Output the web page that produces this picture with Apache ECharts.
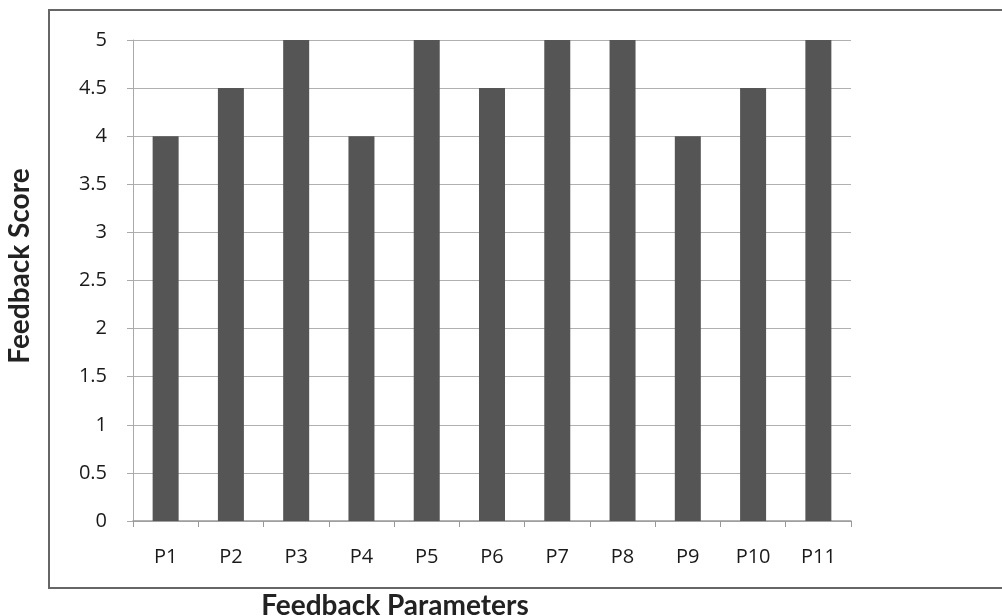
<!DOCTYPE html>
<html><head><meta charset="utf-8">
<script src="https://cdn.jsdelivr.net/npm/echarts@6/dist/echarts.min.js"></script>
<style>html,body{margin:0;padding:0;background:#fff}#c{width:1002px;height:616px}</style>
</head><body><div id="c"></div>
<script>
const categories = ['P1','P2','P3','P4','P5','P6','P7','P8','P9','P10','P11'];
const scores = [4, 4.5, 5, 4, 5, 4.5, 5, 5, 4, 4.5, 5];
const xTitle = 'Feedback Parameters';
const yTitle = 'Feedback Score';

const chart = echarts.init(document.getElementById('c'));
const font = 'Lato, "Open Sans", sans-serif';
const tickFont = '"Open Sans", Lato, sans-serif';
chart.setOption({
  animation: false,
  backgroundColor: '#fff',
  grid: {left: 133, right: 151, top: 40, bottom: 95},
  graphic: [
    {type: 'rect', shape: {x: 49, y: 10, width: 970, height: 578}, style: {fill: 'none', stroke: '#666', lineWidth: 2}},
    {type: 'text', x: 395, y: 606, style: {text: xTitle, font: 'bold 28px ' + font, fill: '#222', align: 'center', verticalAlign: 'middle'}},
    {type: 'text', x: 20, y: 266, rotation: Math.PI / 2, style: {text: yTitle, font: 'bold 28px ' + font, fill: '#222', align: 'center', verticalAlign: 'middle'}}
  ],
  xAxis: {
    type: 'category', data: categories,
    axisLine: {lineStyle: {color: '#999', width: 1.5}},
    axisTick: {show: true, alignWithLabel: false, length: 6, lineStyle: {color: '#999'}},
    axisLabel: {color: '#1a1a1a', fontSize: 20, fontFamily: tickFont, margin: 26}
  },
  yAxis: {
    type: 'value', min: 0, max: 5, interval: 0.5,
    axisLine: {show: true, lineStyle: {color: '#aaa'}},
    axisTick: {show: true, length: 6, lineStyle: {color: '#aaa'}},
    splitLine: {lineStyle: {color: '#b0b0b0', width: 1.2}},
    axisLabel: {color: '#1a1a1a', fontSize: 20, fontFamily: tickFont, margin: 26}
  },
  series: [{
    type: 'bar', data: scores, barWidth: 26,
    itemStyle: {color: '#555'}
  }]
});
</script></body></html>
